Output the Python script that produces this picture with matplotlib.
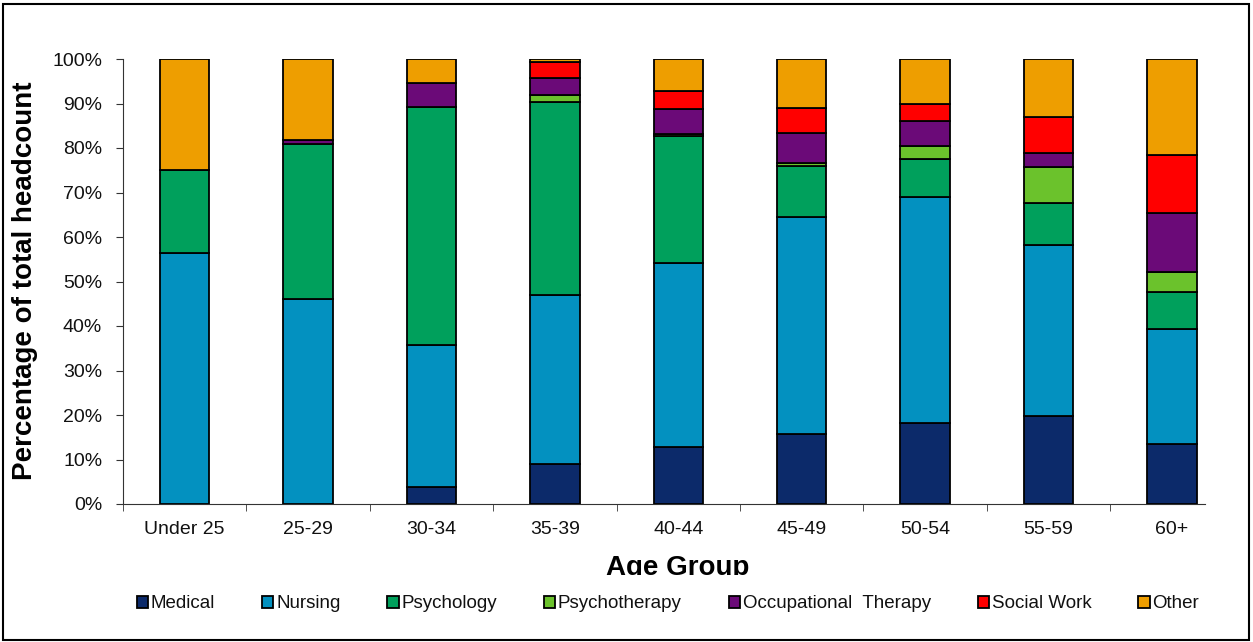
import matplotlib.pyplot as plt
import numpy as np
from matplotlib.patches import Rectangle
from matplotlib.ticker import FuncFormatter, MultipleLocator

plt.rcParams['font.family'] = ['Liberation Sans', 'DejaVu Sans']

groups = ['Under 25', '25-29', '30-34', '35-39', '40-44', '45-49', '50-54', '55-59', '60+']
medical       = [0.0,  0.0,  3.8,  9.0, 12.8, 15.7, 18.2, 19.8, 13.5]
nursing       = [56.4, 46.1, 31.9, 38.0, 41.4, 48.9, 50.7, 38.4, 25.8]
psychology    = [18.7, 34.8, 53.5, 43.3, 28.5, 11.4,  8.6,  9.5,  8.4]
psychotherapy = [0.0,  0.0,  0.0,  1.5,  0.4,  0.6,  3.0,  8.0,  4.4]
occupational  = [0.0,  0.8,  5.4,  3.9,  5.6,  6.8,  5.6,  3.1, 13.2]
social_work   = [0.0,  0.0,  0.0,  3.7,  4.1,  5.7,  3.8,  8.2, 13.1]
other         = [24.9, 18.3, 5.4,  0.6,  7.2, 10.9, 10.1, 13.0, 21.6]

series = [
    ('Medical', medical, '#0c2a6a'),
    ('Nursing', nursing, '#0391c0'),
    ('Psychology', psychology, '#00a05c'),
    ('Psychotherapy', psychotherapy, '#6bc22c'),
    ('Occupational  Therapy', occupational, '#6b0a78'),
    ('Social Work', social_work, '#ff0000'),
    ('Other', other, '#ee9e00'),
]

W, H = 1253, 642
fig = plt.figure(figsize=(W / 100, H / 100), dpi=100)
# the plot area is cut off on the right, as in the original
ax = fig.add_axes([123 / W, 1 - 504 / H, (1205 - 123) / W, (504 - 59) / H])
catw = 123.4

x = np.arange(len(groups))
bottom = np.zeros(len(groups))
for name, vals, col in series:
    vals = np.array(vals)
    ax.bar(x, vals, 0.4, bottom=bottom, color=col, edgecolor='black',
           linewidth=1.3, label=name, zorder=3)
    bottom += vals

ax.set_xlim(-0.5, -0.5 + (1205 - 123) / catw)
ax.set_ylim(0, 100)
ax.yaxis.set_major_locator(MultipleLocator(10))
ax.yaxis.set_major_formatter(FuncFormatter(lambda v, p: '%d%%' % v))
ax.set_xticks(x)
ax.set_xticklabels(groups)
ax.set_xticks(np.arange(-0.5, len(groups) - 0.5), minor=True)
ax.tick_params(axis='x', which='major', length=0, pad=12, labelsize=14, labelcolor='#111111')
ax.tick_params(axis='x', which='minor', length=5, direction='out', color='#333333')
ax.tick_params(axis='y', length=5, direction='out', labelsize=14, pad=10,
               color='#333333', labelcolor='#111111')

for s in ['top', 'right']:
    ax.spines[s].set_visible(False)
ax.spines['left'].set_color('#333333')
ax.spines['bottom'].set_color('#333333')

fig.text(25 / W, 1 - 281 / H, 'Percentage of total headcount', rotation=90,
         fontsize=20, fontweight='bold', ha='center', va='center')
fig.text(678 / W, 1 - 575 / H, 'Age Group', fontsize=20, fontweight='bold',
         ha='center', va='baseline')

leg = fig.legend(loc='center', bbox_to_anchor=(668 / W, 1 - 604 / H), ncol=7,
                 frameon=True, fontsize=13.5, handlelength=0.6, handleheight=0.6,
                 handletextpad=0.15, columnspacing=2.5, borderpad=0.3)
leg.get_frame().set_facecolor('white')
leg.get_frame().set_edgecolor('white')
leg.get_frame().set_alpha(1)
leg.get_frame().set_boxstyle('square', pad=0)
leg.set_zorder(10)
# white strip below the x label keeps its lower edge hidden, like the original
fig.patches.append(Rectangle((5 / W, 2 / H), 1240 / W, (H - 575 - 2) / H, facecolor='white',
                             edgecolor='none', transform=fig.transFigure, zorder=5))
for t in leg.get_texts():
    t.set_color('#111111')

fig.patches.append(Rectangle((3 / W, 2 / H), 1246 / W, 636 / H, fill=False,
                             edgecolor='black', linewidth=1.5, transform=fig.transFigure,
                             zorder=20))

fig.savefig('out.png', dpi=100)
